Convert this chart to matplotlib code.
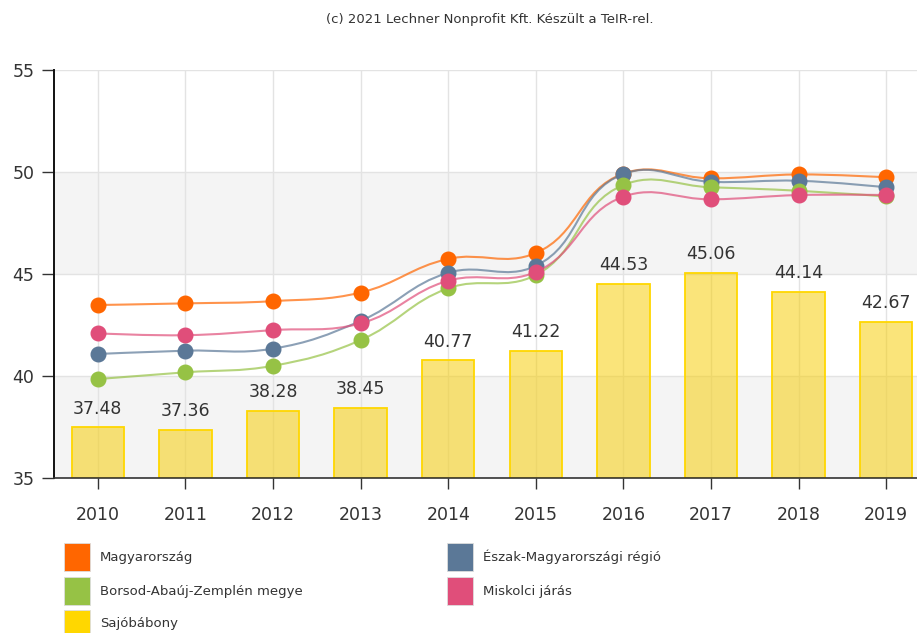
import numpy as np
import matplotlib.pyplot as plt
from matplotlib.path import Path
from matplotlib.patches import PathPatch, Rectangle

# data
years = ['2010', '2011', '2012', '2013', '2014', '2015', '2016', '2017', '2018', '2019']
magyarorszag = [43.48, 43.56, 43.67, 44.09, 45.74, 46.03, 49.92, 49.69, 49.88, 49.74]
eszak = [41.08, 41.24, 41.34, 42.70, 45.06, 45.40, 49.90, 49.52, 49.57, 49.25]
baz = [39.85, 40.18, 40.50, 41.76, 44.30, 44.95, 49.36, 49.25, 49.08, 48.80]
miskolci = [42.09, 42.00, 42.25, 42.58, 44.67, 45.10, 48.79, 48.66, 48.87, 48.87]
sajobabony = [37.48, 37.36, 38.28, 38.45, 40.77, 41.22, 44.53, 45.06, 44.14, 42.67]

series = [
    ('Magyarország', magyarorszag, '#ff6600'),
    ('Észak-Magyarországi régió', eszak, '#5b7897'),
    ('Borsod-Abaúj-Zemplén megye', baz, '#96c245'),
    ('Miskolci járás', miskolci, '#e04e7a'),
]
bar_name = 'Sajóbábony'
bar_color = '#ffd700'

plt.rcParams['font.family'] = ['DejaVu Sans']

fig = plt.figure(figsize=(9.17, 6.33), dpi=100)
ax = fig.add_axes([54 / 917, 155 / 633, 876 / 917, 408 / 633])
x = np.arange(len(years))
ax.set_xlim(-0.5, len(years) - 0.5)
ax.set_ylim(35, 55)

# alternating bands
for lo in (35, 45):
    ax.axhspan(lo, lo + 5, color='#f4f4f4', zorder=0, lw=0)
ax.set_yticks([35, 40, 45, 50, 55])
ax.set_xticks(x)
ax.set_xticklabels(years)
ax.grid(True, color='#e3e3e3', lw=1)
ax.set_axisbelow(True)

bars = ax.bar(x, [v - 35 for v in sajobabony], bottom=35, width=0.6,
              facecolor=(0.97, 0.80, 0.0, 0.52), edgecolor=bar_color, lw=1.3, zorder=2)
for xi, v in zip(x, sajobabony):
    ax.annotate(f'{v:.2f}', (xi, v), xytext=(0, 7), textcoords='offset points',
                ha='center', va='bottom', fontsize=12.5, color='#333333', zorder=5)


def spline_path(xs, ys, smoothing=1.5):
    # highcharts-like spline, computed in display space
    pts = ax.transData.transform(np.column_stack([xs, ys]))
    n = len(pts)
    left = pts.copy()
    right = pts.copy()
    denom = smoothing + 1
    for i in range(1, n - 1):
        px, py = pts[i]
        lx, ly = pts[i - 1]
        nx, ny = pts[i + 1]
        lcx, lcy = (smoothing * px + lx) / denom, (smoothing * py + ly) / denom
        rcx, rcy = (smoothing * px + nx) / denom, (smoothing * py + ny) / denom
        dl = np.hypot(lcx - px, lcy - py)
        dr = np.hypot(rcx - px, rcy - py)
        la = np.arctan2(lcy - py, lcx - px)
        ra = np.arctan2(rcy - py, rcx - px)
        ja = np.pi / 2 + (la + ra) / 2
        if abs(la - ja) > np.pi / 2:
            ja -= np.pi
        left[i] = (px + np.cos(ja) * dl, py + np.sin(ja) * dl)
        right[i] = (px + np.cos(np.pi + ja) * dr, py + np.sin(np.pi + ja) * dr)
    verts = [pts[0]]
    codes = [Path.MOVETO]
    for i in range(1, n):
        verts += [right[i - 1], left[i], pts[i]]
        codes += [Path.CURVE4] * 3
    verts = ax.transData.inverted().transform(np.array(verts))
    return Path(verts, codes)


for z, (name, vals, col) in enumerate(series):
    patch = PathPatch(spline_path(x, vals), facecolor='none', edgecolor=col,
                      lw=1.5, alpha=0.7, zorder=3 + z * 0.1)
    ax.add_patch(patch)
    ax.plot(x, vals, 'o', color=col, ms=10.5, zorder=3.05 + z * 0.1)

for s in ('top', 'right'):
    ax.spines[s].set_visible(False)
ax.spines['left'].set_color('#111111')
ax.spines['left'].set_linewidth(1.4)
ax.spines['bottom'].set_color('#333333')
ax.spines['bottom'].set_linewidth(1.2)
ax.tick_params(axis='y', length=9, width=1, color='#333333', labelsize=12.5,
               labelcolor='#333333', pad=5)
ax.tick_params(axis='x', length=8, width=1, color='#333333', labelsize=12.5,
               labelcolor='#333333', pad=12)

fig.text(490 / 917, 1 - 20 / 633, '(c) 2021 Lechner Nonprofit Kft. Készült a TeIR-rel.',
         ha='center', va='center', fontsize=9.5, color='#333333')

# legend
legend_items = [
    (64, 557, 'Magyarország', '#ff6600'),
    (447, 557, 'Észak-Magyarországi régió', '#5b7897'),
    (64, 591, 'Borsod-Abaúj-Zemplén megye', '#96c245'),
    (447, 591, 'Miskolci járás', '#e04e7a'),
    (64, 624, bar_name, bar_color),
]
for lx, ly, label, col in legend_items:
    fig.patches.append(Rectangle((lx / 917, 1 - (ly + 14) / 633), 26 / 917, 28 / 633,
                                 transform=fig.transFigure, facecolor=col,
                                 edgecolor='#dddddd', lw=0.6))
    fig.text((lx + 36) / 917, 1 - ly / 633, label, ha='left', va='center',
             fontsize=9.5, color='#333333')

fig.savefig('out.png', dpi=100)
